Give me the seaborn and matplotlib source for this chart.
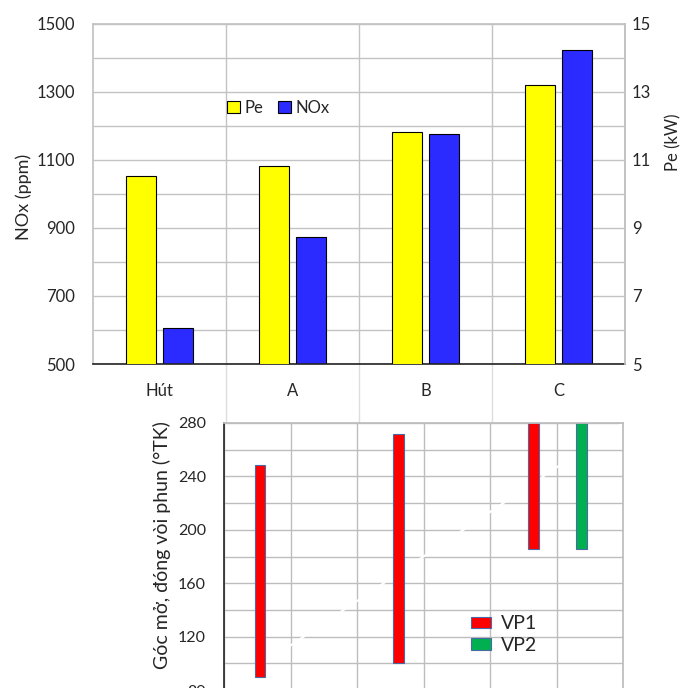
import numpy as np
import pandas as pd
import matplotlib
matplotlib.use('Agg')
import matplotlib.pyplot as plt
import seaborn as sns

# top chart: NOx (left axis) and Pe (right axis)
categories = ['Hút', 'A', 'B', 'C']
pe_kw = [10.53, 10.82, 11.82, 13.21]
nox_ppm = [606, 873, 1177, 1424]

# bottom chart: injector open / close angles
vp1_x = [0.54, 2.62, 4.65]
vp1_open = [89.5, 100.5, 185.5]
vp1_close = [248.5, 272, 280]
vp2_x = [5.38]
vp2_open = [185.5]
vp2_close = [280]
guide_x = [0, 6]
guide_y = [80, 280]

sns.set_theme(style='white')
plt.rcParams['font.family'] = ['Lato', 'DejaVu Sans']

grid_c = '#c3c3c3'
W, H = 681, 688

fig = plt.figure(figsize=(W / 100, H / 100), dpi=100)

# %% top chart
ax = fig.add_axes([93 / W, 1 - 364 / H, 532 / W, 340 / H])
ax2 = ax.twinx()

df = pd.DataFrame({'cat': categories * 2,
                   'series': ['Pe'] * len(categories) + ['NOx'] * len(categories),
                   'val': pe_kw + nox_ppm})
pal = {'Pe': '#ffff00', 'NOx': '#2b2bff'}
hue_order = ['Pe', 'NOx']
bar_kw = dict(x='cat', y='val', hue='series', hue_order=hue_order, palette=pal,
              order=categories, width=0.556, gap=0.19, errorbar=None, dodge=True,
              edgecolor='black', linewidth=0.8, legend=False, saturation=1)
sns.barplot(data=df[df['series'] == 'NOx'], ax=ax, **bar_kw)
sns.barplot(data=df[df['series'] == 'Pe'], ax=ax2, **bar_kw)

ax.set_ylim(500, 1500)
ax.set_yticks(range(500, 1501, 200))
ax.set_yticks(range(600, 1500, 200), minor=True)
ax.set_axisbelow(True)
ax.grid(axis='y', which='both', color=grid_c, lw=1)
ax2.set_ylim(5, 15)
ax2.set_yticks(range(5, 16, 2))

for b in np.arange(len(categories) - 1) + 0.5:
    ax.axvline(b, color=grid_c, lw=1, zorder=0.5)
    ax.axvline(b, ymin=-0.174, ymax=0, color='#dedede', lw=1, clip_on=False)

ax.set_xlabel('')
ax.set_ylabel('NOx (ppm)', fontsize=13)
ax.yaxis.set_label_coords(-0.115, 0.49)
ax2.set_ylabel('Pe (kW)', fontsize=12)
ax2.yaxis.set_label_coords(1.075, 0.653)

ax.tick_params(axis='x', which='both', length=0, pad=14, labelsize=12)
ax.tick_params(axis='y', which='both', length=0, pad=13, labelsize=12)
ax2.tick_params(axis='y', length=0, pad=5, labelsize=12)

for s in ['left', 'top', 'right']:
    ax.spines[s].set_color(grid_c)
ax.spines['bottom'].set_color('#222222')
ax.spines['bottom'].set_linewidth(1.2)
for s in ['left', 'top', 'bottom']:
    ax2.spines[s].set_visible(False)
ax2.spines['right'].set_color(grid_c)

ax2.legend([ax2.patches[0], ax.patches[0]], hue_order, ncol=2, loc='center left',
           bbox_to_anchor=(0.252, 0.753), frameon=False, fontsize=12,
           handlelength=0.75, handleheight=0.75, handletextpad=0.3,
           columnspacing=0.9, borderaxespad=0, borderpad=0)

# %% bottom chart
ax3 = fig.add_axes([224 / W, 1 - 690 / H, 399 / W, 267 / H])
ax3.set_facecolor('white')
ax3.set_xlim(0, 6)
ax3.set_ylim(80, 280)
ax3.set_xticks(range(7))
ax3.set_xticklabels([])
ax3.set_yticks(range(80, 281, 40))
ax3.set_yticks(range(100, 261, 40), minor=True)
ax3.set_axisbelow(True)
ax3.grid(which='both', color='#bdbdbd', lw=1)

ax3.plot(guide_x, guide_y, color='white', lw=1.5, zorder=1.5)
ax3.bar(vp1_x, np.subtract(vp1_close, vp1_open), bottom=vp1_open, width=0.16,
        color='#ff0000', edgecolor='#4a6aa5', lw=0.8, label='VP1', zorder=2)
ax3.bar(vp2_x, np.subtract(vp2_close, vp2_open), bottom=vp2_open, width=0.16,
        color='#00b050', edgecolor='#4a6aa5', lw=0.8, label='VP2', zorder=2)

ax3.tick_params(axis='both', which='both', length=0)
ax3.tick_params(axis='y', pad=13, labelsize=11.5)
ax3.set_ylabel('Góc mở, đóng vòi phun (°TK)', fontsize=14)
ax3.yaxis.set_label_coords(-0.133, 0.543)

ax3.spines['left'].set_color('#222222')
ax3.spines['left'].set_linewidth(1.2)
ax3.spines['top'].set_color('#bdbdbd')
ax3.spines['right'].set_color('#bdbdbd')
ax3.spines['bottom'].set_visible(False)

ax3.legend(loc='center left', bbox_to_anchor=(0.619, 0.208), frameon=False,
           fontsize=14, handlelength=1.03, handleheight=0.5, handletextpad=0.5,
           labelspacing=0.25, borderaxespad=0, borderpad=0)

fig.savefig('out.png', dpi=100, facecolor='white')
